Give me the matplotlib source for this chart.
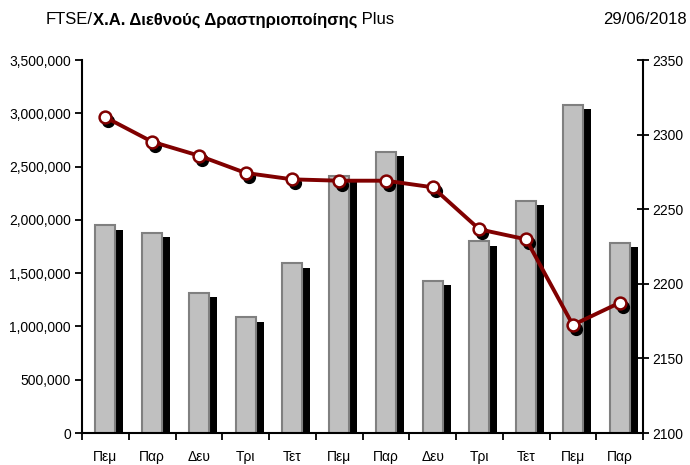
import matplotlib
matplotlib.use("Agg")
import matplotlib.pyplot as plt
from matplotlib.transforms import ScaledTranslation
from matplotlib.ticker import FuncFormatter, FixedLocator
import numpy as np

days = ["Πεμ", "Παρ", "Δευ", "Τρι", "Τετ", "Πεμ", "Παρ", "Δευ", "Τρι", "Τετ", "Πεμ", "Παρ"]
volume = [1950000, 1877000, 1314000, 1088000, 1595000, 2410000, 2640000, 1430000,
          1800000, 2177000, 3078000, 1786000]
index_close = [2311.6, 2295.2, 2285.9, 2274.3, 2270.0, 2269.1, 2269.1, 2264.7,
               2236.5, 2229.8, 2172.4, 2187.3]
title_parts = ["FTSE/", "Χ.Α. Διεθνούς Δραστηριοποίησης", " Plus"]
date_label = "29/06/2018"

plt.rcParams['font.family'] = ['Liberation Sans', 'DejaVu Sans']

fig = plt.figure(figsize=(6.9, 4.65), dpi=100)
ax = fig.add_axes([82/690, 32/465, (643-82)/690, (433-60)/465])
ax2 = ax.twinx()

x = np.arange(len(days))
w = 0.43
shadow = ScaledTranslation(8/100, -4.5/100, fig.dpi_scale_trans)
ax.bar(x, volume, width=w, color='black', linewidth=0, zorder=1,
       transform=ax.transData + shadow)
ax.bar(x, volume, width=w, color='#c0c0c0', edgecolor='#808080', linewidth=1.5, zorder=2)

ax.set_xlim(-0.5, len(days) - 0.5)
ax.set_ylim(0, 3500000)
ax.set_yticks(np.arange(0, 3500001, 500000))
ax.yaxis.set_major_formatter(FuncFormatter(lambda v, p: f"{int(v):,}"))
ax.xaxis.set_major_locator(FixedLocator(np.arange(-0.5, len(days), 1.0)))
ax.set_xticklabels([])
ax.xaxis.set_minor_locator(FixedLocator(x))
ax.set_xticklabels(days, minor=True)
ax.tick_params(axis='x', which='major', direction='out', length=5, width=1.3)
ax.tick_params(axis='x', which='minor', length=0, pad=12, labelsize=10)
ax.tick_params(axis='y', direction='out', length=5, width=1.3, labelsize=10, pad=3)
for s in ['top', 'right']:
    ax.spines[s].set_visible(False)
for s in ['left', 'bottom']:
    ax.spines[s].set_linewidth(1.5)

# line with shadow markers
mshadow = ScaledTranslation(3/100, -4/100, fig.dpi_scale_trans)
ax2.plot(x, index_close, linestyle='none', marker='o', markersize=8.5,
         markerfacecolor='black', markeredgecolor='black', zorder=2,
         transform=ax2.transData + mshadow)
ax2.plot(x, index_close, color='#800000', linewidth=2.8, marker='o', markersize=8.5,
         markerfacecolor='white', markeredgecolor='#800000', markeredgewidth=1.8, zorder=3)
ax2.set_ylim(2100, 2350)
ax2.set_yticks(np.arange(2100, 2351, 50))
ax2.tick_params(axis='y', direction='inout', length=8, width=1.3, labelsize=10, pad=3)
for s in ['top', 'left', 'bottom']:
    ax2.spines[s].set_visible(False)
ax2.spines['right'].set_linewidth(1.5)

# title
fam = ['Liberation Sans', 'DejaVu Sans']
ty = 1 - 20/465
t = fig.text(46/690, ty, title_parts[0], fontsize=12, family=fam, va='center', ha='left')
fig.canvas.draw()
r = fig.canvas.get_renderer()
def nxt(txt, s, bold):
    bb = txt.get_window_extent(r)
    return fig.text(bb.x1/fig.bbox.width, ty, s, fontsize=12, family=fam,
                    fontweight='bold' if bold else 'normal', va='center', ha='left')
t2 = nxt(t, title_parts[1], True)
t3 = nxt(t2, title_parts[2], False)
fig.text(687/690, ty, date_label, fontsize=12, family=fam, va='center', ha='right')

fig.savefig("out.png", dpi=100)
